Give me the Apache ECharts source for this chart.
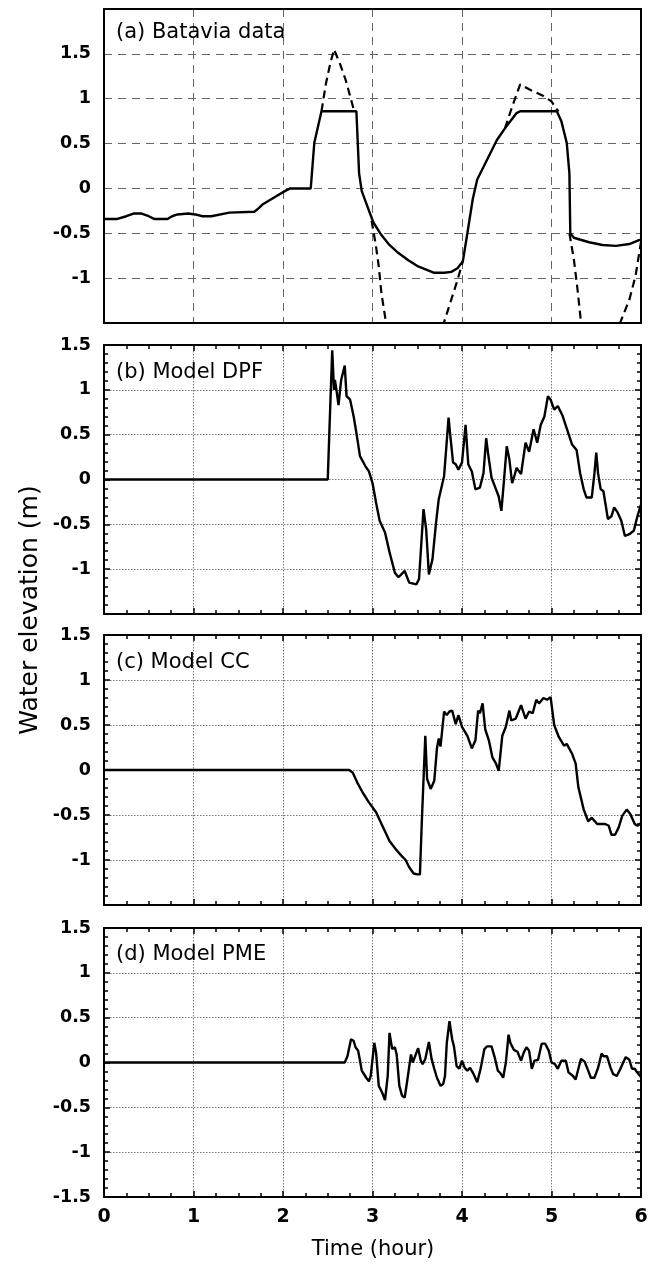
<!DOCTYPE html>
<html><head><meta charset="utf-8">
<script src="https://cdn.jsdelivr.net/npm/echarts@6/dist/echarts.min.js"></script>
<style>html,body{margin:0;padding:0;background:#fff}#c{width:654px;height:1266px}</style>
</head><body><div id="c"></div>
<script>
// ---------- data ----------
const xTickValues = [0, 1, 2, 3, 4, 5, 6];
const panelTitles = ['(a) Batavia data', '(b) Model DPF', '(c) Model CC', '(d) Model PME'];
const yTitle = 'Water elevation (m)';
const xTitle = 'Time (hour)';

// (a) Batavia observed (solid) and reconstructed (dashed)
const batTime = [0,0.15,0.25,0.33,0.42,0.5,0.56,0.71,0.76,0.82,0.94,1.02,1.1,1.2,1.4,1.68,1.73,1.77,1.92,2.02,2.08,2.31,2.35,2.43,2.82,2.85,2.88,2.95,3.01,3.1,3.18,3.29,3.4,3.51,3.69,3.8,3.88,3.95,4.01,4.06,4.12,4.17,4.28,4.39,4.48,4.61,4.65,5.06,5.11,5.17,5.2,5.21,5.25,5.42,5.57,5.72,5.87,5.97,6.0];
const batSolid = [-0.34,-0.34,-0.31,-0.28,-0.28,-0.31,-0.34,-0.34,-0.31,-0.29,-0.28,-0.29,-0.31,-0.31,-0.27,-0.26,-0.22,-0.18,-0.09,-0.03,0,0,0.51,0.86,0.86,0.17,-0.03,-0.22,-0.38,-0.52,-0.62,-0.72,-0.8,-0.87,-0.94,-0.94,-0.93,-0.89,-0.81,-0.5,-0.12,0.1,0.32,0.54,0.67,0.84,0.86,0.86,0.75,0.51,0.17,-0.5,-0.55,-0.6,-0.63,-0.64,-0.62,-0.58,-0.57];
const batDashTime = [2.43,2.48,2.53,2.57,2.64,2.7,2.75,2.79,2.82, 2.9, 2.99,3.04,3.07,3.1,3.15,3.25,3.4,3.55,3.68,3.8,3.88,3.95,4.01, 4.3, 4.48,4.56,4.65,4.76,4.91,5.0,5.06,5.08, 5.15, 5.2,5.25,5.29,5.32,5.33,5.45,5.6,5.77,5.87,5.94,5.98,6.0];
const batDash = [0.86,1.17,1.4,1.55,1.38,1.21,1.03,0.88,0.86, null, -0.36,-0.65,-0.87,-1.17,-1.49,-1.95,-2.25,-2.3,-2.0,-1.49,-1.24,-1.02,-0.81, null, 0.67,0.91,1.16,1.1,1.03,0.97,0.88,0.86, null, -0.5,-0.79,-1.12,-1.4,-1.49,-2.3,-2.4,-1.49,-1.24,-0.97,-0.72,-0.6];

// (b) Model DPF
const dpfTime = [0,2.5,2.52,2.55,2.57,2.58,2.6,2.62,2.65,2.69,2.71,2.75,2.79,2.82,2.86,2.92,2.96,3.0,3.04,3.08,3.14,3.19,3.25,3.29,3.36,3.41,3.49,3.52,3.57,3.6,3.63,3.67,3.71,3.74,3.76,3.8,3.82,3.85,3.87,3.9,3.93,3.96,4.0,4.04,4.07,4.11,4.15,4.2,4.24,4.27,4.29,4.33,4.38,4.41,4.44,4.47,4.5,4.53,4.56,4.58,4.61,4.66,4.71,4.75,4.8,4.84,4.88,4.92,4.96,4.99,5.03,5.07,5.12,5.17,5.23,5.28,5.32,5.36,5.39,5.45,5.48,5.5,5.52,5.55,5.58,5.63,5.67,5.7,5.74,5.78,5.82,5.87,5.92,5.96,6.0];
const dpfVal = [0,0,0.59,1.44,1.0,1.11,0.98,0.83,1.11,1.27,0.93,0.89,0.7,0.52,0.26,0.15,0.09,-0.04,-0.26,-0.46,-0.59,-0.81,-1.04,-1.09,-1.02,-1.15,-1.17,-1.11,-0.33,-0.56,-1.06,-0.89,-0.48,-0.22,-0.22,0.04,0.3,0.69,0.48,0.19,0.17,0.11,0.19,0.61,0.17,0.09,-0.11,-0.09,0.07,0.46,0.3,0.02,-0.11,-0.19,-0.35,0.0,0.37,0.22,-0.04,0.02,0.13,0.06,0.41,0.31,0.56,0.41,0.61,0.7,0.93,0.89,0.78,0.82,0.72,0.57,0.39,0.33,0.07,-0.11,-0.2,-0.2,0.07,0.3,0.07,-0.11,-0.13,-0.44,-0.41,-0.31,-0.37,-0.46,-0.63,-0.61,-0.57,-0.41,-0.28];

// (c) Model CC
const ccTime = [0,2.74,2.78,2.83,2.89,2.96,3.04,3.11,3.19,3.26,3.33,3.37,3.41,3.46,3.5,3.53,3.55,3.59,3.61,3.65,3.69,3.72,3.74,3.76,3.8,3.83,3.86,3.89,3.93,3.96,4.0,4.06,4.11,4.15,4.18,4.2,4.23,4.26,4.3,4.34,4.38,4.41,4.45,4.49,4.53,4.55,4.6,4.66,4.71,4.75,4.79,4.83,4.86,4.91,4.95,4.99,5.03,5.08,5.14,5.17,5.23,5.27,5.3,5.36,5.41,5.45,5.51,5.6,5.64,5.67,5.71,5.75,5.79,5.84,5.88,5.93,5.96,6.0];
const ccVal = [0,0,-0.03,-0.14,-0.25,-0.36,-0.47,-0.62,-0.79,-0.88,-0.96,-1.0,-1.08,-1.15,-1.16,-1.16,-0.6,0.38,-0.1,-0.21,-0.12,0.24,0.35,0.26,0.65,0.61,0.65,0.66,0.51,0.61,0.48,0.38,0.24,0.33,0.66,0.63,0.74,0.45,0.33,0.14,0.07,-0.01,0.38,0.48,0.66,0.55,0.57,0.72,0.57,0.65,0.63,0.78,0.74,0.8,0.78,0.81,0.5,0.37,0.27,0.29,0.18,0.07,-0.19,-0.44,-0.57,-0.53,-0.6,-0.6,-0.62,-0.72,-0.72,-0.64,-0.51,-0.44,-0.49,-0.6,-0.62,-0.59];

// (d) Model PME
const pmeTime = [0,2.69,2.72,2.76,2.79,2.81,2.84,2.88,2.93,2.96,2.98,3.02,3.04,3.07,3.09,3.11,3.14,3.17,3.19,3.22,3.25,3.27,3.3,3.33,3.36,3.39,3.43,3.45,3.47,3.51,3.54,3.56,3.59,3.63,3.66,3.69,3.72,3.76,3.79,3.81,3.83,3.86,3.89,3.91,3.94,3.97,4.0,4.03,4.06,4.09,4.13,4.17,4.21,4.25,4.28,4.33,4.37,4.4,4.43,4.46,4.49,4.52,4.54,4.58,4.62,4.66,4.69,4.72,4.75,4.78,4.81,4.85,4.89,4.93,4.97,5.0,5.04,5.07,5.11,5.16,5.19,5.24,5.27,5.3,5.33,5.37,5.41,5.44,5.48,5.52,5.56,5.58,5.62,5.66,5.69,5.73,5.77,5.81,5.83,5.87,5.9,5.93,5.95,5.99,6.0];
const pmeVal = [0,0,0.07,0.26,0.24,0.17,0.13,-0.09,-0.17,-0.21,-0.15,0.22,0.11,-0.26,-0.3,-0.34,-0.42,-0.15,0.33,0.15,0.17,0.09,-0.26,-0.37,-0.39,-0.19,0.09,0.0,0.0,0.16,0.02,-0.02,0.04,0.23,0.04,-0.07,-0.17,-0.26,-0.24,-0.15,0.22,0.46,0.26,0.18,-0.04,-0.07,0.02,-0.06,-0.09,-0.06,-0.13,-0.22,-0.06,0.15,0.18,0.18,0.04,-0.09,-0.12,-0.17,0.0,0.31,0.22,0.14,0.12,0.02,0.11,0.17,0.13,-0.07,0.02,0.03,0.21,0.21,0.13,0.0,-0.02,-0.07,0.02,0.02,-0.11,-0.15,-0.19,-0.07,0.04,0.01,-0.09,-0.17,-0.17,-0.06,0.1,0.07,0.07,-0.06,-0.13,-0.15,-0.07,0.02,0.06,0.03,-0.07,-0.07,-0.1,-0.15,-0.16];

// ---------- chart ----------
const zip = (t, v) => t.map((x, i) => [x, v[i] === null ? null : v[i]]);
const grids = [
  {left: 104, right: 13, top: 9, height: 314},
  {left: 104, right: 13, top: 345, height: 269},
  {left: 104, right: 13, top: 635, height: 270},
  {left: 104, right: 13, top: 928, height: 269}
];
const yRanges = [[-1.5, 2], [-1.5, 1.5], [-1.5, 1.5], [-1.5, 1.5]];
const FONT = "'DejaVu Sans', sans-serif";

const xAxes = [], yAxes = [];
for (let i = 0; i < 4; i++) {
  const isA = i === 0;
  ['bottom', 'top'].forEach(pos => {
    const main = pos === 'bottom';
    xAxes.push({
      type: 'value', gridIndex: i, position: pos, min: 0, max: 6, interval: 1,
      axisLine: {show: true, onZero: false, lineStyle: {color: '#000', width: 2}},
      axisTick: {show: !isA, inside: true, length: 6, lineStyle: {color: '#000', width: 1.5}},
      minorTick: {show: !isA, splitNumber: 4, length: 4, lineStyle: {color: '#000', width: 1.5}},
      axisLabel: {show: i === 3 && main, margin: 11, color: '#000', fontFamily: FONT, fontWeight: 'bold', fontSize: 19,
        formatter: v => xTickValues.includes(v) ? String(v) : ''},
      splitLine: {show: main, lineStyle: isA ? {color: '#666', type: [8, 6], width: 1} : {color: '#777', type: [1.5, 1.5], width: 1}}
    });
  });
  ['left', 'right'].forEach(pos => {
    const main = pos === 'left';
    yAxes.push({
      type: 'value', gridIndex: i, position: pos, min: yRanges[i][0], max: yRanges[i][1], interval: 0.5,
      axisLine: {show: true, onZero: false, lineStyle: {color: '#000', width: 2}},
      axisTick: {show: !isA, inside: true, length: 6, lineStyle: {color: '#000', width: 1.5}},
      minorTick: {show: !isA, splitNumber: 5, length: 4, lineStyle: {color: '#000', width: 1.5}},
      axisLabel: {show: main, margin: 13, color: '#000', fontFamily: FONT, fontWeight: 'bold', fontSize: 17.5,
        formatter: v => {
          if (i === 0 && (v === 2 || v === -1.5)) return '';
          if ((i === 1 || i === 2) && v === -1.5) return '';
          return String(v);
        }},
      splitLine: {show: main, lineStyle: isA ? {color: '#666', type: [8, 6], width: 1} : {color: '#777', type: [1.5, 1.5], width: 1}}
    });
  });
}

const lineBase = {type: 'line', showSymbol: false, symbol: 'none', animation: false, clip: true};
const LW = 2.4;
const series = [
  Object.assign({}, lineBase, {xAxisIndex: 0, yAxisIndex: 0, data: zip(batDashTime, batDash), connectNulls: false,
    lineStyle: {color: '#000', width: 2.2, type: [8, 5]}}),
  Object.assign({}, lineBase, {xAxisIndex: 0, yAxisIndex: 0, data: zip(batTime, batSolid), lineStyle: {color: '#000', width: LW}}),
  Object.assign({}, lineBase, {xAxisIndex: 2, yAxisIndex: 2, data: zip(dpfTime, dpfVal), lineStyle: {color: '#000', width: LW}}),
  Object.assign({}, lineBase, {xAxisIndex: 4, yAxisIndex: 4, data: zip(ccTime, ccVal), lineStyle: {color: '#000', width: LW}}),
  Object.assign({}, lineBase, {xAxisIndex: 6, yAxisIndex: 6, data: zip(pmeTime, pmeVal), lineStyle: {color: '#000', width: LW}})
];

const titleY = [33, 373, 663, 955];
const graphic = panelTitles.map((t, i) => ({
  type: 'text', x: 116, y: titleY[i], z: 100,
  style: {text: t, fill: '#000', font: "21px 'DejaVu Sans', sans-serif", verticalAlign: 'middle'}
}));
graphic.push({type: 'text', x: 30, y: 610, rotation: Math.PI / 2, z: 100,
  style: {text: yTitle, fill: '#000', font: "25px 'DejaVu Sans', sans-serif", align: 'center', verticalAlign: 'middle'}});
graphic.push({type: 'text', x: 373, y: 1250, z: 100,
  style: {text: xTitle, fill: '#000', font: "21px 'DejaVu Sans', sans-serif", align: 'center', verticalAlign: 'middle'}});

const chart = echarts.init(document.getElementById('c'), null, {renderer: 'canvas'});
chart.setOption({
  backgroundColor: '#fff', animation: false,
  grid: grids, xAxis: xAxes, yAxis: yAxes, series: series, graphic: graphic
});
</script></body></html>
